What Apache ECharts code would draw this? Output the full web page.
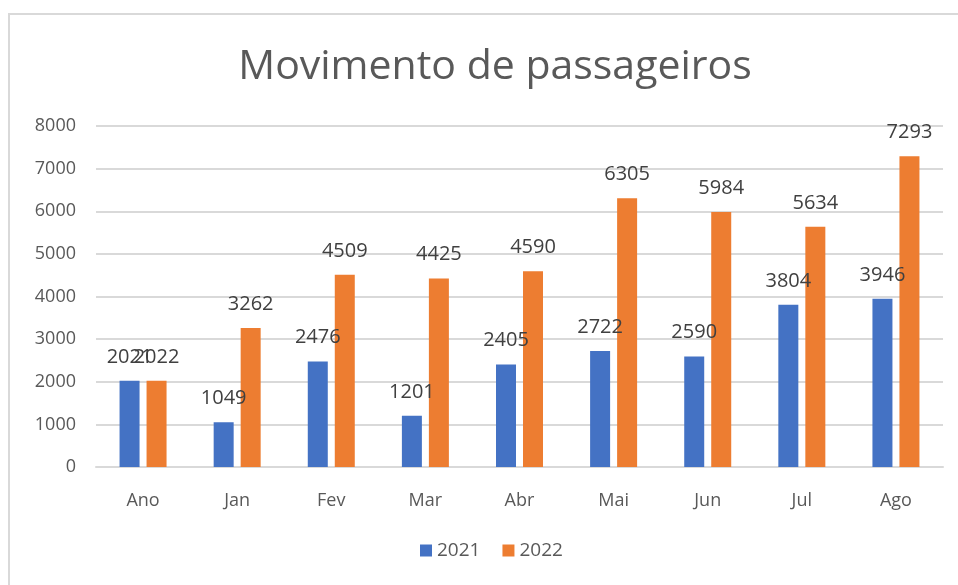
<!DOCTYPE html>
<html>
<head>
<meta charset="utf-8">
<script src="https://cdn.jsdelivr.net/npm/echarts@6/dist/echarts.min.js"></script>
<style>
  html, body { margin: 0; padding: 0; background: #fff; }
  #chart { width: 958px; height: 585px; }
</style>
</head>
<body>
<div id="chart"></div>
<script>
// dados do grafico
const categorias = ['Ano', 'Jan', 'Fev', 'Mar', 'Abr', 'Mai', 'Jun', 'Jul', 'Ago']
const valores2021 = [2021, 1049, 2476, 1201, 2405, 2722, 2590, 3804, 3946]
const valores2022 = [2022, 3262, 4509, 4425, 4590, 6305, 5984, 5634, 7293]
const nomesSeries = ['2021', '2022']

const fonte = '"Open Sans", "Liberation Sans", sans-serif'

const chart = echarts.init(document.getElementById('chart'))

const rotulo = {
  show: true,
  position: 'top',
  distance: 14,
  color: '#404040',
  fontSize: 20,
  fontFamily: fonte
}

const options = {
  backgroundColor: '#fff',
  animation: false,
  graphic: [
    {
      type: 'rect',
      shape: { x: 9, y: 14, width: 960, height: 590 },
      style: { fill: 'none', stroke: '#d9d9d9', lineWidth: 2 }
    }
  ],
  title: {
    text: 'Movimento de passageiros',
    left: 490,
    textAlign: 'center',
    top: 42,
    textStyle: {
      color: '#595959',
      fontSize: 41,
      fontWeight: 'normal',
      fontFamily: fonte
    }
  },
  legend: {
    data: nomesSeries,
    bottom: 20,
    left: 415,
    itemWidth: 12,
    itemHeight: 12,
    itemGap: 22,
    icon: 'rect',
    textStyle: {
      color: '#595959',
      fontSize: 19,
      fontFamily: fonte
    }
  },
  grid: {
    left: 96,
    right: 15,
    top: 126,
    bottom: 118,
    containLabel: false
  },
  xAxis: {
    type: 'category',
    data: categorias,
    axisTick: { show: false },
    axisLine: { lineStyle: { color: '#d9d9d9', width: 2 } },
    axisLabel: {
      color: '#595959',
      fontSize: 18,
      fontFamily: fonte,
      margin: 25
    }
  },
  yAxis: {
    type: 'value',
    min: 0,
    max: 8000,
    interval: 1000,
    axisLine: { show: false },
    axisTick: { show: false },
    splitLine: { lineStyle: { color: '#d9d9d9', width: 2 } },
    axisLabel: {
      color: '#595959',
      fontSize: 18,
      fontFamily: fonte,
      margin: 20,
      formatter: (v) => String(v)
    }
  },
  series: [
    {
      name: nomesSeries[0],
      type: 'bar',
      data: valores2021,
      barWidth: 20,
      barGap: '35%',
      itemStyle: { color: '#4472c4' },
      label: rotulo
    },
    {
      name: nomesSeries[1],
      type: 'bar',
      data: valores2022,
      barWidth: 20,
      itemStyle: { color: '#ed7d31' },
      label: rotulo
    }
  ]
}

chart.setOption(options, true)
</script>
</body>
</html>
